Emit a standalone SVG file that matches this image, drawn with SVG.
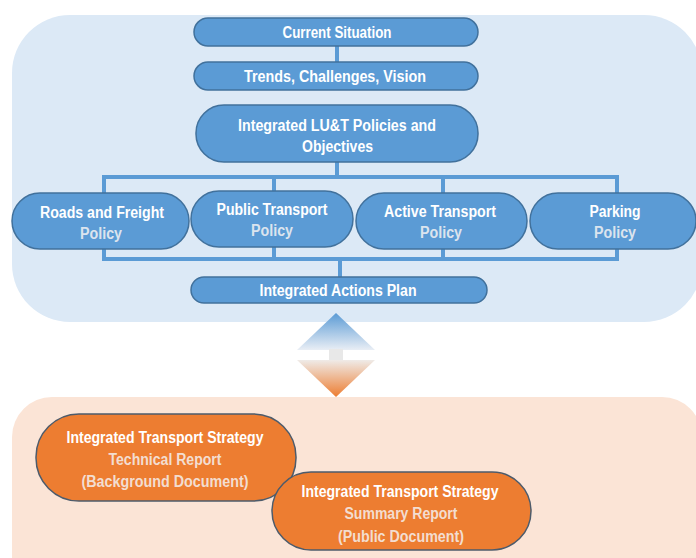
<svg xmlns="http://www.w3.org/2000/svg" width="696" height="558" viewBox="0 0 696 558">
<defs>
<linearGradient id="gUp" x1="0" y1="0" x2="0" y2="1">
<stop offset="0" stop-color="#5b9bd5"/>
<stop offset="1" stop-color="#e9eef5"/>
</linearGradient>
<linearGradient id="gDown" x1="0" y1="0" x2="0" y2="1">
<stop offset="0" stop-color="#efebe8"/>
<stop offset="1" stop-color="#ed7d31"/>
</linearGradient>
<style>
.bn{fill:#5b9bd5;stroke:#41719c;stroke-width:1.5}
.on{fill:#ed7d31;stroke:#4d5b6b;stroke-width:1.5}
.t{font-family:"Liberation Sans Narrow","Arial Narrow","Liberation Sans",sans-serif;font-weight:bold;font-size:16px;text-anchor:middle;fill:#ffffff}
.tb{fill:#dbe4ee}
.to{fill:#f3ddd0}
.c{fill:none;stroke:#5b9bd5;stroke-width:4}
</style>
</defs>
<rect id="panel-top" x="12" y="15" width="690" height="307" rx="58" fill="#dce9f6"/>
<rect id="panel-bottom" x="12" y="397" width="690" height="200" rx="40" fill="#fbe4d6"/>
<g id="bidirectional-arrow">
<polygon points="336,313 375,350 297,350" fill="url(#gUp)"/>
<rect x="329" y="349" width="14" height="12" fill="#e8e8e8"/>
<polygon points="297,360 375,360 336,397" fill="url(#gDown)"/>
</g>
<g id="connectors">
<path class="c" d="M337,46 V62"/>
<path class="c" d="M337,162 V177"/>
<path class="c" d="M104,177 H617 M104,175 V193 M274,175 V191 M443,175 V193 M617,175 V193"/>
<path class="c" d="M104,249 V261 M274,247 V261 M443,249 V261 M617,249 V261 M102,259 H619 M340,259 V277"/>
</g>
<g id="current-situation">
<rect class="bn" x="194" y="18" width="284" height="28" rx="14"/>
<text class="t" x="337" y="38" textLength="109" lengthAdjust="spacingAndGlyphs">Current Situation</text>
</g>
<g id="trends">
<rect class="bn" x="194" y="62" width="284" height="28" rx="14"/>
<text class="t" x="335" y="82" textLength="182" lengthAdjust="spacingAndGlyphs">Trends, Challenges, Vision</text>
</g>
<g id="policies-objectives">
<rect class="bn" x="196" y="105" width="282" height="57" rx="28"/>
<text class="t" x="337" y="131" textLength="198" lengthAdjust="spacingAndGlyphs">Integrated LU&amp;T Policies and</text>
<text class="t" x="337.5" y="152" textLength="71" lengthAdjust="spacingAndGlyphs">Objectives</text>
</g>
<g id="roads-freight">
<rect class="bn" x="12" y="193" width="177" height="56" rx="28"/>
<text class="t" x="102" y="218" textLength="124" lengthAdjust="spacingAndGlyphs">Roads and Freight</text>
<text class="t tb" x="101" y="239" textLength="42" lengthAdjust="spacingAndGlyphs">Policy</text>
</g>
<g id="public-transport">
<rect class="bn" x="191" y="191" width="162" height="56" rx="28"/>
<text class="t" x="272" y="215" textLength="111" lengthAdjust="spacingAndGlyphs">Public Transport</text>
<text class="t tb" x="272" y="236" textLength="42" lengthAdjust="spacingAndGlyphs">Policy</text>
</g>
<g id="active-transport">
<rect class="bn" x="356" y="193" width="171" height="56" rx="28"/>
<text class="t" x="440" y="217" textLength="112" lengthAdjust="spacingAndGlyphs">Active Transport</text>
<text class="t tb" x="441" y="238" textLength="42" lengthAdjust="spacingAndGlyphs">Policy</text>
</g>
<g id="parking">
<rect class="bn" x="530" y="193" width="166" height="56" rx="28"/>
<text class="t" x="615" y="217" textLength="51" lengthAdjust="spacingAndGlyphs">Parking</text>
<text class="t tb" x="615" y="238" textLength="42" lengthAdjust="spacingAndGlyphs">Policy</text>
</g>
<g id="actions-plan">
<rect class="bn" x="191" y="277" width="296" height="26" rx="13"/>
<text class="t" x="338" y="296" textLength="157" lengthAdjust="spacingAndGlyphs">Integrated Actions Plan</text>
</g>
<g id="technical-report">
<rect class="on" x="36" y="414" width="260" height="87" rx="43"/>
<text class="t" x="165" y="443" textLength="197" lengthAdjust="spacingAndGlyphs">Integrated Transport Strategy</text>
<text class="t to" x="165" y="465" textLength="113" lengthAdjust="spacingAndGlyphs">Technical Report</text>
<text class="t to" x="165" y="487" textLength="167" lengthAdjust="spacingAndGlyphs">(Background Document)</text>
</g>
<g id="summary-report">
<rect class="on" x="272" y="472" width="259" height="78" rx="39"/>
<text class="t" x="400" y="497" textLength="197" lengthAdjust="spacingAndGlyphs">Integrated Transport Strategy</text>
<text class="t to" x="401" y="519" textLength="113" lengthAdjust="spacingAndGlyphs">Summary Report</text>
<text class="t to" x="401" y="542" textLength="126" lengthAdjust="spacingAndGlyphs">(Public Document)</text>
</g>
</svg>
